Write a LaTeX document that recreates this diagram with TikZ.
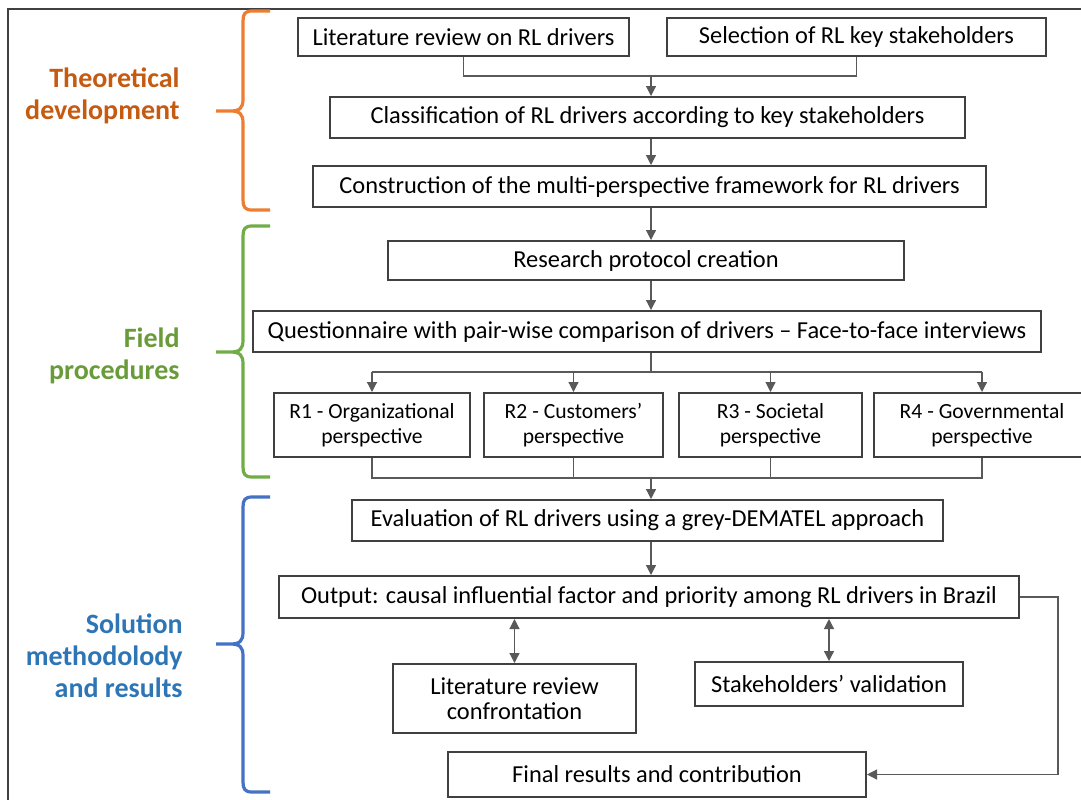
\documentclass[tikz,border=0pt]{standalone}
\usepackage{fontspec}
\setmainfont{Carlito}
\usetikzlibrary{arrows.meta, positioning}
\definecolor{boxgray}{HTML}{404040}
\definecolor{linegray}{HTML}{595959}
\definecolor{theoorange}{HTML}{ED7D31}
\definecolor{theotext}{HTML}{C55A11}
\definecolor{fieldgreen}{HTML}{70AD47}
\definecolor{fieldtext}{HTML}{6A9B3A}
\definecolor{solblue}{HTML}{4472C4}
\definecolor{soltext}{HTML}{2E75B6}
% brace of one stage: colour, top, tip, bottom
\newcommand{\stagebrace}[4]{%
  \draw[#1, line width=1.6pt] (270,#2) -- (252,#2)
    .. controls (245,#2) and (243,{#2+3}) .. (243,{#2+10}) -- (243,{#3-12})
    .. controls (243,{#3-3}) and (240,#3) .. (230,#3) -- (216,#3) -- (230,#3)
    .. controls (240,#3) and (243,{#3+3}) .. (243,{#3+12}) -- (243,{#4-10})
    .. controls (243,{#4-3}) and (245,#4) .. (252,#4) -- (270,#4);}

\begin{document}
\begin{tikzpicture}[x=0.5pt, y=-0.5pt, >={Triangle[length=5pt,width=5pt]}]
        \tikzstyle{block} = [draw=boxgray, shape=rectangle, line width=1pt, inner sep=0pt,
        align=center, font=\fontsize{12.2}{12.5}\selectfont]
        \tikzstyle{persp} = [block, minimum height=32pt, font=\fontsize{10.8}{12.5}\selectfont]
        \tikzstyle{stage} = [align=right, anchor=east, inner sep=0pt, font=\fontsize{14}{16}\selectfont\bfseries]
        \tikzstyle{link} = [draw=linegray, line width=0.6pt]
        \clip (0,0) rectangle (1081,799);
        \draw[boxgray, line width=1pt] (8,9) rectangle (1100,820);
        %Stages
        \node[stage, text=theotext] (theo) at (180,96) {Theoretical\\development};
        \node[stage, text=fieldtext] (field) at (180,356) {Field\\procedures};
        \node[stage, text=soltext] (sol) at (183,656) {Solution\\methodolody\\and results};
        \stagebrace{theoorange}{11}{111}{210}
        \stagebrace{fieldgreen}{226}{352}{477}
        \stagebrace{solblue}{497}{644}{792}
        %Creating Blocks
        \node[block, minimum width=165.5pt, minimum height=19pt] (litrev) at (463.5,37) {Literature review on RL drivers};
        \node[block, minimum width=189.5pt, minimum height=19pt] (select) at (856.5,37) {Selection of RL key stakeholders};
        \node[block, minimum width=317.5pt, minimum height=20.5pt] (classif) at (647.5,117.5) {Classification of RL drivers according to key stakeholders};
        \node[block, minimum width=336.5pt, minimum height=20.5pt] (frame) at (649.5,186.5) {Construction of the multi-perspective framework for RL drivers};
        \node[block, minimum width=258pt, minimum height=19.5pt] (protocol) at (646,260.5) {Research protocol creation};
        \node[block, minimum width=394pt, minimum height=20.5pt] (quest) at (647,331.5) {Questionnaire with pair-wise comparison of drivers -- Face-to-face interviews};
        \node[persp, minimum width=98pt] (r1) at (372,425) {R1 - Organizational\\perspective};
        \node[persp, minimum width=89.5pt] (r2) at (573.5,425) {R2 - Customers’\\perspective};
        \node[persp, minimum width=91.5pt] (r3) at (770.5,425) {R3 - Societal\\perspective};
        \node[persp, minimum width=108pt] (r4) at (982,425) {R4 - Governmental\\perspective};
        \node[block, minimum width=295.5pt, minimum height=20.5pt] (eval) at (647.5,520.5) {Evaluation of RL drivers using a grey-DEMATEL approach};
        \node[block, minimum width=370pt, minimum height=21pt] (output) at (649,597) {Output: causal influential factor and priority among RL drivers in Brazil};
        \node[block, minimum width=121.5pt, minimum height=34.5pt] (confront) at (514.5,698.5) {Literature review\\confrontation};
        \node[block, minimum width=134pt, minimum height=22pt] (valid) at (829,684) {Stakeholders’ validation};
        \node[block, minimum width=209pt, minimum height=22.5pt] (final) at (657,774.5) {Final results and contribution};
        \coordinate (join1) at (651,76);
        \coordinate (split) at (651,372);
        \coordinate (join2) at (651,478);
        %Connecting Blocks
        \begin{scope}[link]
            \draw (litrev.south) |- (join1) -| (select.south);
            \draw[->] (join1) -- (join1 |- classif.north);
            \draw[->] (join1 |- classif.south) -- (join1 |- frame.north);
            \draw[->] (join1 |- frame.south) -- (join1 |- protocol.north);
            \draw[->] (join1 |- protocol.south) -- (join1 |- quest.north);
            \draw (join1 |- quest.south) -- (split);
            \draw (split -| r1.north) -- (split -| r4.north);
            \foreach \r in {r1,r2,r3,r4}
                \draw[->] (split -| \r.north) -- (\r.north);
            \draw (r1.south) |- (join2) -| (r4.south);
            \draw (r2.south) -- (r2.south |- join2);
            \draw (r3.south) -- (r3.south |- join2);
            \draw[->] (join2) -- (join2 |- eval.north);
            \draw[->] (join2 |- eval.south) -- (join2 |- output.north);
            \draw[<->] (confront.north) -- (confront.north |- output.south);
            \draw[<->] (valid.north) -- (valid.north |- output.south);
            \draw[->] (output.east) -- ++(38,0) |- (final.east);
        \end{scope}
    \end{tikzpicture}
\end{document}
